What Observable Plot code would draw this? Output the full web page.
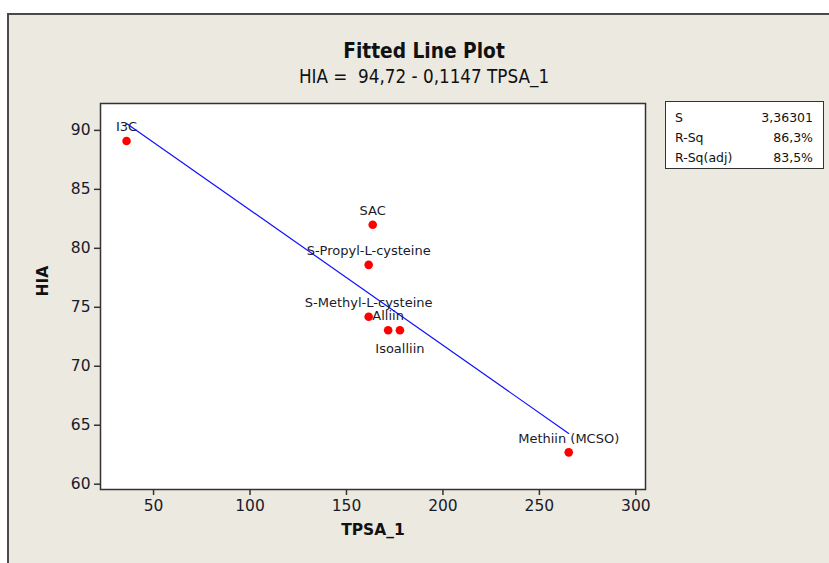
<!DOCTYPE html>
<html>
<head>
<meta charset="utf-8">
<script src="https://cdn.jsdelivr.net/npm/d3@7"></script>
<script src="https://cdn.jsdelivr.net/npm/@observablehq/plot@0.6"></script>
<style>
  html, body { margin: 0; padding: 0; background: #ffffff; }
  #wrap { position: relative; width: 829px; height: 563px; overflow: hidden; background: #ffffff; }
  #panel { position: absolute; left: 7px; top: 13px; width: 900px; height: 700px; background: #ece9e0; border-left: 2px solid #4a4a4a; border-top: 2px solid #4a4a4a; }
  #chart { position: absolute; left: 0; top: 0; }
  .title { position: absolute; left: 0; width: 848px; text-align: center; color: #111; font-family: "DejaVu Sans", sans-serif; font-stretch: condensed; white-space: pre; }
  #t1 { top: 39px; font-size: 20.7px; font-weight: bold; }
  #t2 { top: 66px; font-size: 18.7px; }
  #stats { position: absolute; left: 665px; top: 101px; width: 157px; height: 66px; background: #fff; border: 1.5px solid #333; font-family: "DejaVu Sans", sans-serif; font-size: 12.5px; color: #111; }
  #stats .row { position: absolute; left: 9px; right: 10px; height: 16px; }
  #stats .v { position: absolute; right: 0; top: 0; }
</style>
</head>
<body>
<div id="wrap">
  <div id="panel"></div>
  <div id="chart"></div>
  <div class="title" id="t1"></div>
  <div class="title" id="t2"></div>
  <div id="stats"></div>
</div>
<script>
// ---- data ----
const names = ["I3C", "SAC", "S-Propyl-L-cysteine", "S-Methyl-L-cysteine", "Alliin", "Isoalliin", "Methiin (MCSO)"];
const tpsa  = [36.0, 163.6, 161.5, 161.5, 171.6, 177.7, 265.2];
const hia   = [89.1, 82.0, 78.6, 74.2, 73.05, 73.05, 62.7];
const xTicks = [50, 100, 150, 200, 250, 300];
const yTicks = [60, 65, 70, 75, 80, 85, 90];
const intercept = 94.72;
const slope = -0.1147;
const titleText = "Fitted Line Plot";
const subtitleText = "HIA =  94,72 - 0,1147 TPSA_1";
const xLabel = "TPSA_1";
const yLabel = "HIA";
const statLabels = ["S", "R-Sq", "R-Sq(adj)"];
const statValues = ["3,36301", "86,3%", "83,5%"];
const belowLabels = ["Isoalliin"];

// ---- build ----
const pts = names.map((n, i) => ({name: n, x: tpsa[i], y: hia[i]}));
const xMin = d3.min(tpsa), xMax = d3.max(tpsa);
const fit = [xMin, xMax].map(x => ({x, y: intercept + slope * x}));

const ink = "#1a1a2a";
const plot = Plot.plot({
  width: 829,
  height: 563,
  marginLeft: 100,
  marginRight: 184,
  marginTop: 103,
  marginBottom: 74,
  style: {background: "transparent", fontFamily: "DejaVu Sans, sans-serif", color: ink},
  x: {domain: [22.5, 305]},
  y: {domain: [59.55, 92.28]},
  marks: [
    Plot.frame({fill: "white", stroke: "#333", strokeWidth: 1.5}),
    Plot.axisX({ticks: xTicks, tickSize: 6, tickPadding: 4, fontSize: 15.5, stroke: "#333", strokeWidth: 1.5, label: null, tickFormat: d => String(d)}),
    Plot.axisY({ticks: yTicks, tickSize: 6, tickPadding: 4, fontSize: 15.5, stroke: "#333", strokeWidth: 1.5, label: null, tickFormat: d => String(d)}),
    Plot.text([xLabel], {frameAnchor: "bottom", dy: 45, text: d => d, fontSize: 15.5, fontWeight: "bold", fill: "#111"}),
    Plot.text([yLabel], {frameAnchor: "left", dx: -57, rotate: -90, text: d => d, fontSize: 15.5, fontWeight: "bold", fill: "#111"}),
    Plot.line(fit, {x: "x", y: "y", stroke: "#1010ff", strokeWidth: 1.2}),
    Plot.dot(pts, {x: "x", y: "y", r: 4.3, fill: "#ff0000", stroke: "none"}),
    Plot.text(pts.filter(d => !belowLabels.includes(d.name)), {x: "x", y: "y", text: "name", dy: -14, fontSize: 13, fill: ink}),
    Plot.text(pts.filter(d => belowLabels.includes(d.name)), {x: "x", y: "y", text: "name", dy: 19, fontSize: 13, fill: ink})
  ]
});
document.getElementById("chart").appendChild(plot);
document.getElementById("t1").textContent = titleText;
document.getElementById("t2").textContent = subtitleText;
const stats = document.getElementById("stats");
statLabels.forEach((l, i) => {
  const row = document.createElement("div");
  row.className = "row";
  row.style.top = (8 + i * 20) + "px";
  row.textContent = l;
  const v = document.createElement("span");
  v.className = "v";
  v.textContent = statValues[i];
  row.appendChild(v);
  stats.appendChild(row);
});
</script>
</body>
</html>
